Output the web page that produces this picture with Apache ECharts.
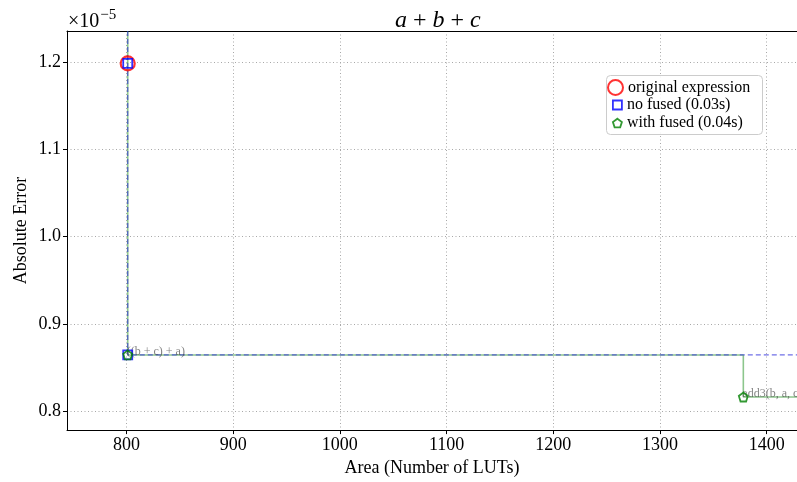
<!DOCTYPE html>
<html><head><meta charset="utf-8">
<script src="https://cdn.jsdelivr.net/npm/echarts@6/dist/echarts.min.js"></script>
<style>html,body{margin:0;padding:0;background:#fff}#c{width:797px;height:482px}</style>
</head><body><div id="c"></div>
<script>
const xTicks = [800, 900, 1000, 1100, 1200, 1300, 1400];
const yTicks = [0.8, 0.9, 1.0, 1.1, 1.2];
const xRange = [744.3, 1428.4];
const yRange = [0.7784, 1.2356];
const originalExpr = [[801.2, 1.1985]];
const noFused = [[801.2, 1.1985], [801.2, 0.8645]];
const withFused = [[801.2, 0.8645], [1378.1, 0.8163]];
const withFusedLabels = ['((b + c) + a)', 'add3(b, a, c)'];
const noFusedFront = [[801.2, 1.2356], [801.2, 0.8645], [1428.4, 0.8645]];
const withFusedFront = [[801.2, 1.2356], [801.2, 0.8645], [1378.1, 0.8645], [1378.1, 0.8163], [1428.4, 0.8163]];

const FONT = "'Liberation Serif', 'Times New Roman', serif";
const pentagon = 'path://M0,-10 L9.51,-3.09 L5.88,8.09 L-5.88,8.09 L-9.51,-3.09 Z';
const chart = echarts.init(document.getElementById('c'), null, {renderer: 'canvas'});

const gridLine = {show: true, lineStyle: {type: [1, 2.5], color: '#a8a8a8', width: 1}};
const legendText = {fontFamily: FONT, fontSize: 16, color: '#000'};

chart.setOption({
  animation: false,
  backgroundColor: '#fff',
  title: {
    text: '{i|a}{n| + }{i|b}{n| + }{i|c}',
    left: 390, top: 4,
    textStyle: {fontWeight: 'normal', rich: {
      i: {fontFamily: FONT, fontStyle: 'italic', fontWeight: 'normal', fontSize: 24, color: '#000'},
      n: {fontFamily: FONT, fontWeight: 'normal', fontSize: 24, color: '#000'}
    }}
  },
  graphic: [
    {type: 'text', left: 68, top: 8, z: 10,
     style: {text: '{a|×10}{b|−5}', rich: {
       a: {font: "20px 'Liberation Serif', serif", fill: '#000', verticalAlign: 'bottom'},
       b: {font: "15px 'Liberation Serif', serif", fill: '#000', verticalAlign: 'top', padding: [0, 0, 9, 1]}
     }}},
    {type: 'rect', left: 606, top: 75, z: 3,
     shape: {width: 156, height: 59, r: 4},
     style: {fill: 'rgba(255,255,255,0.85)', stroke: '#cccccc', lineWidth: 1}}
  ],
  legend: [
    {left: 607, top: 79, padding: 0, z: 10, itemWidth: 15, itemHeight: 15, textStyle: legendText,
     data: [{name: 'original expression', icon: 'circle', itemStyle: {color: 'transparent', borderColor: '#ff0000', borderWidth: 2}}]},
    {left: 612, top: 97, padding: 0, z: 10, itemWidth: 9, itemHeight: 9, textStyle: legendText,
     data: [{name: 'no fused (0.03s)', icon: 'rect', itemStyle: {color: 'transparent', borderColor: '#0000ff', borderWidth: 1.8}}]},
    {left: 612, top: 115, padding: 0, z: 10, itemWidth: 9, itemHeight: 9, textStyle: legendText,
     data: [{name: 'with fused (0.04s)', icon: pentagon, itemStyle: {color: 'transparent', borderColor: '#007f00', borderWidth: 1.8}}]}
  ],
  grid: {left: 67, top: 31, right: 0, bottom: 49, containLabel: false},
  xAxis: [{
    type: 'value', min: xRange[0], max: xRange[1], position: 'bottom',
    name: 'Area (Number of LUTs)', nameLocation: 'middle', nameGap: 25,
    nameTextStyle: {fontFamily: FONT, fontSize: 18, color: '#000'},
    axisLine: {show: true, lineStyle: {color: '#000', width: 1}},
    axisTick: {show: true, customValues: xTicks, length: 4, lineStyle: {color: '#000'}},
    axisLabel: {customValues: xTicks, fontFamily: FONT, fontSize: 18, color: '#000', margin: 6,
      formatter: v => String(Math.round(v))},
    splitLine: gridLine
  }, {
    type: 'value', min: xRange[0], max: xRange[1], position: 'top',
    axisLine: {show: true, lineStyle: {color: '#000', width: 1}},
    axisTick: {show: false}, axisLabel: {show: false}, splitLine: {show: false}
  }],
  yAxis: [{
    type: 'value', min: yRange[0], max: yRange[1],
    name: 'Absolute Error', nameLocation: 'middle', nameGap: 37, nameRotate: 90, nameMoveOverlap: false,
    nameTextStyle: {fontFamily: FONT, fontSize: 18, color: '#000'},
    axisLine: {show: true, lineStyle: {color: '#000', width: 1}},
    axisTick: {show: true, customValues: yTicks, length: 4, lineStyle: {color: '#000'}},
    axisLabel: {customValues: yTicks, fontFamily: FONT, fontSize: 18, color: '#000', margin: 6,
      formatter: v => v.toFixed(1)},
    splitLine: gridLine
  }],
  series: [
    {type: 'line', name: 'with fused front', data: withFusedFront, showSymbol: false, symbol: 'none',
     lineStyle: {color: 'rgba(0,128,0,0.45)', width: 1.6}, z: 2, silent: true},
    {type: 'line', name: 'no fused front', data: noFusedFront, showSymbol: false, symbol: 'none',
     lineStyle: {color: 'rgba(50,50,220,0.7)', width: 1.2, type: [5, 3]}, z: 2, silent: true},
    {type: 'scatter', name: 'annotations', z: 3, symbolSize: 1,
     itemStyle: {color: 'transparent'},
     data: withFused.map((p, i) => ({value: p, name: withFusedLabels[i]})),
     label: {show: true, position: 'inside', align: 'left', verticalAlign: 'bottom', offset: [-1, 3],
       formatter: p => p.name, fontFamily: FONT, fontSize: 12, color: 'rgba(60,60,60,0.8)'}},
    {type: 'scatter', name: 'original expression', data: originalExpr, symbol: 'circle', symbolSize: 14, z: 4,
     itemStyle: {color: 'transparent', borderColor: '#ff0000', borderWidth: 2.2}},
    {type: 'scatter', name: 'no fused (0.03s)', data: noFused, symbol: 'rect', symbolSize: 9, z: 5,
     itemStyle: {color: 'transparent', borderColor: '#0000ff', borderWidth: 1.8}},
    {type: 'scatter', name: 'with fused (0.04s)', data: withFused, symbol: pentagon, symbolSize: 9, z: 6,
     itemStyle: {color: 'transparent', borderColor: '#007f00', borderWidth: 1.8}}
  ]
});
</script></body></html>
